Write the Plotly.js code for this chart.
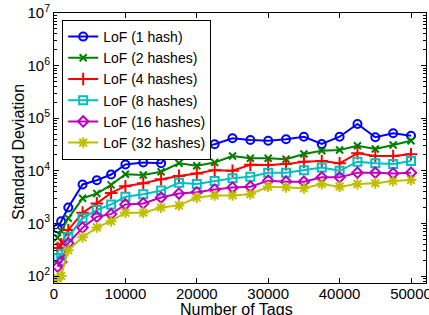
<!DOCTYPE html>
<html>
<head>
<meta charset="utf-8">
<script src="https://cdn.plot.ly/plotly-3.0.1.min.js"></script>
<style>html,body{margin:0;padding:0;background:#fff;}#chart{width:429px;height:315px;}</style>
</head>
<body>
<div id="chart"></div>
<script>
const numTags = [500,1000,2000,4000,6000,8000,10000,12500,15000,17500,20000,22500,25000,27500,30000,32500,35000,37500,40000,42500,45000,47500,50000];
const lof1  = [800,1100,2000,5500,6600,8500,13200,14400,13900,35700,27500,31900,41500,38500,37400,39800,44500,32400,44500,77600,43400,51600,46500];
const lof2  = [530,720,1250,3000,3700,5400,8600,8300,9600,13900,12500,14400,19100,17300,17300,16600,20900,24100,24800,30000,25900,30900,37300];
const lof4  = [340,400,750,1600,2400,3800,5100,5800,6900,8000,8900,10300,10000,13000,12900,13400,14900,15400,13900,21500,19100,19100,20600];
const lof8  = [220,260,560,1250,1800,2300,3200,3600,4200,5900,5600,6400,7200,7700,9200,9200,10300,11500,10000,14900,13900,13500,15400];
const lof16 = [150,185,420,830,1340,1500,2300,2400,3100,3700,3900,4400,4800,5000,6500,6200,6200,7500,7500,9200,9200,8900,9200];
const lof32 = [90,100,310,545,840,1100,1600,1600,2000,2200,3100,3400,3400,3600,5000,4850,4650,5600,5000,5600,5800,6400,6700];
const seriesNames = ['LoF (1 hash)','LoF (2 hashes)','LoF (4 hashes)','LoF (8 hashes)','LoF (16 hashes)','LoF (32 hashes)'];
const xTickVals = [0,10000,20000,30000,40000,50000];
const yTickVals = [1e2,1e3,1e4,1e5,1e6,1e7];
const yTickText = ['10<sup>2</sup>','10<sup>3</sup>','10<sup>4</sup>','10<sup>5</sup>','10<sup>6</sup>','10<sup>7</sup>'];
const xTitle = 'Number of Tags';
const yTitle = 'Standard Deviation';

const allY = [lof1,lof2,lof4,lof8,lof16,lof32];
const colors = ['#0000ff','#008000','#ff0000','#00bfbf','#bf00bf','#bfbf00'];
const symbols = ['circle-open','x-thin-open','cross-thin-open','square-open','diamond-open','asterisk-open'];
const sizes = [8,7,9,8,8,9];

const traces = allY.map((ys,i)=>({
  x: numTags, y: ys, name: seriesNames[i], type:'scatter', mode:'lines+markers',
  line:{color:colors[i], width:2},
  marker:{symbol:symbols[i], size:sizes[i], color:colors[i], line:{color:colors[i], width:2}}
}));

const minorVals = [];
for (let e=1; e<7; e++) for (let m=2; m<10; m++) minorVals.push(m*Math.pow(10,e));

const fam = 'Arial, "Liberation Sans", sans-serif';
const layout = {
  width:429, height:315,
  margin:{l:54, r:3, t:13, b:32},
  paper_bgcolor:'#fff', plot_bgcolor:'#fff',
  font:{family:fam, size:15, color:'#000'},
  showlegend:true,
  legend:{x:0.022, y:0.974, xanchor:'left', yanchor:'top', bgcolor:'#fff', bordercolor:'#000', borderwidth:1,
          font:{family:fam, size:14, color:'#000'}, itemwidth:30, tracegroupgap:0},
  xaxis:{range:[0,52100], tickmode:'array', tickvals:xTickVals, ticktext:xTickVals.map(String),
         ticks:'inside', ticklen:5, tickcolor:'#000', showline:true, linecolor:'#000', linewidth:1, mirror:'ticks',
         showgrid:false, zeroline:false, tickfont:{family:fam,size:15,color:'#000'},
         ticklabeloverflow:'allow', ticklabelstandoff:-3},
  yaxis:{type:'log', range:[1.867,7], tickmode:'array', tickvals:yTickVals, ticktext:yTickText,
         ticks:'inside', ticklen:5, tickcolor:'#000', showline:true, linecolor:'#000', linewidth:1, mirror:'ticks',
         showgrid:false, zeroline:false, tickfont:{family:fam,size:15,color:'#000'},
         minor:{tickmode:'array', tickvals:minorVals, ticks:'inside', ticklen:3, tickcolor:'#000', showgrid:false}},
  annotations:[
    {text:xTitle, xref:'paper', yref:'paper', x:0.49, y:-0.06, xanchor:'center', yanchor:'top', showarrow:false,
     font:{family:fam, size:16, color:'#000'}},
    {text:yTitle, xref:'paper', yref:'paper', x:-0.097, y:0.485, xanchor:'center', yanchor:'middle', showarrow:false,
     textangle:-90, font:{family:fam, size:16, color:'#000'}}
  ]
};
Plotly.newPlot('chart', traces, layout, {displayModeBar:false, staticPlot:true});
</script>
</body>
</html>
